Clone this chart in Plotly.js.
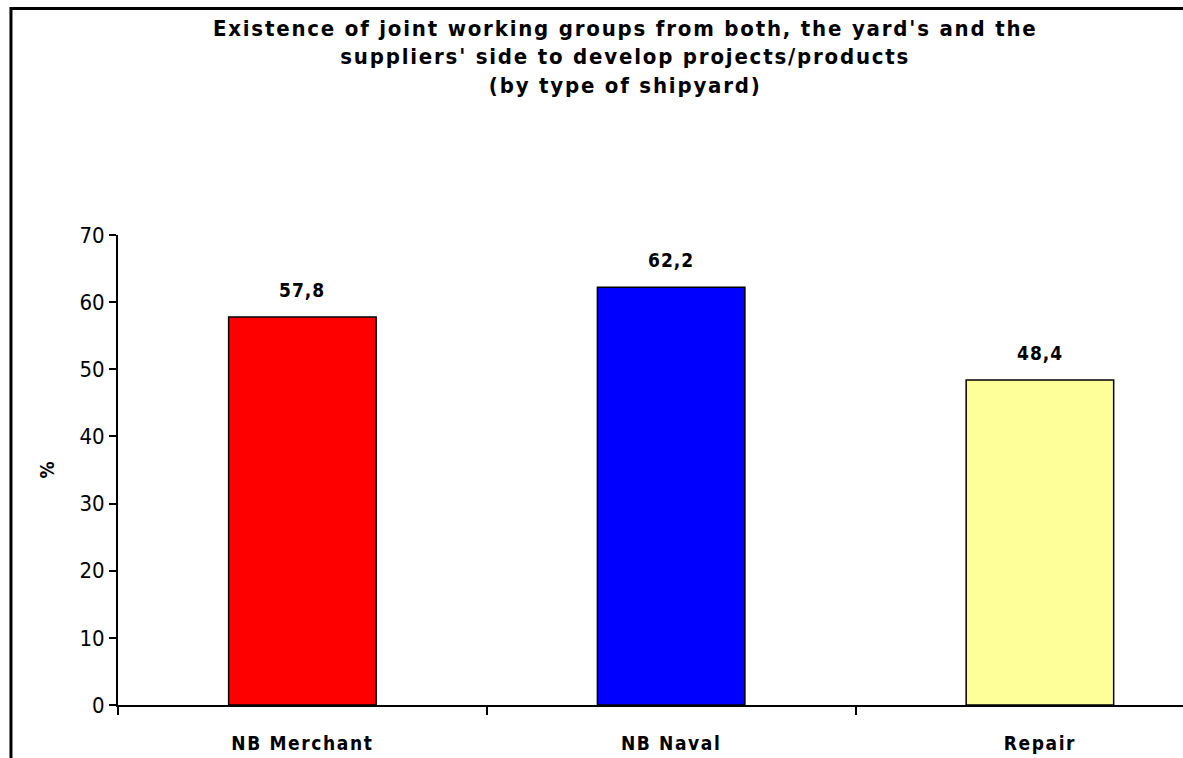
<!DOCTYPE html>
<html>
<head>
<meta charset="utf-8">
<script src="https://cdn.plot.ly/plotly-3.0.1.min.js"></script>
<style>
html,body{margin:0;padding:0;background:#fff;}
#chart{width:1183px;height:758px;}
#chart text.gtitle, #chart text.gtitle tspan { letter-spacing: 1.8px; }
#chart .xtick text { letter-spacing: 1.6px; }
#chart .annotation-text { letter-spacing: 1px; }
</style>
</head>
<body>
<div id="chart"></div>
<script>
const categories = ["NB Merchant", "NB Naval", "Repair"];
const values = [57.8, 62.2, 48.4];
const barColors = ["#FF0000", "#0000FF", "#FFFF99"];
const yTicks = [0, 10, 20, 30, 40, 50, 60, 70];
const chartTitle = "Existence of joint working groups from both, the yard's and the<br>suppliers' side to develop projects/products<br>(by type of shipyard)";

const fontFam = "'DejaVu Sans Condensed', 'Liberation Sans', Arial, sans-serif";

const trace = {
  type: "bar",
  x: categories,
  y: values,
  width: 0.4,
  marker: { color: barColors, line: { color: "#000", width: 1.5 } },
  hoverinfo: "skip"
};

const annotations = categories.map((c, i) => ({
  x: c, y: values[i], xref: "x", yref: "y",
  text: values[i].toFixed(1).replace(".", ","),
  showarrow: false, yanchor: "bottom", yshift: 14,
  font: { family: fontFam, size: 19, color: "#000", weight: "bold" }
}));

const layout = {
  width: 1183, height: 758,
  paper_bgcolor: "#fff", plot_bgcolor: "#fff",
  margin: { l: 118, r: 0, t: 235, b: 53, pad: 0 },
  showlegend: false,
  title: {
    text: chartTitle,
    font: { family: fontFam, size: 22, color: "#000", weight: "bold" },
    x: 0.5285, xref: "container", xanchor: "center",
    y: 0.953, yref: "container", yanchor: "top"
  },
  xaxis: {
    type: "category",
    range: [-0.5, 2.388],
    tickson: "boundaries",
    ticks: "outside", ticklen: 8, tickwidth: 2, tickcolor: "#000",
    ticklabelstandoff: 20,
    showline: true, linecolor: "#000", linewidth: 2,
    showgrid: false, zeroline: false,
    tickfont: { family: fontFam, size: 19, color: "#000", weight: "bold" },
    fixedrange: true
  },
  yaxis: {
    range: [0, 70],
    tickvals: yTicks,
    ticktext: yTicks.map(String),
    ticks: "outside", ticklen: 7, tickwidth: 2, tickcolor: "#000",
    ticklabelstandoff: 0,
    showline: true, linecolor: "#000", linewidth: 2,
    showgrid: false, zeroline: false,
    tickfont: { family: fontFam, size: 22, color: "#000" },
    title: { text: "%", standoff: 20, font: { family: fontFam, size: 19, color: "#000", weight: "bold" } },
    fixedrange: true
  },
  annotations: annotations,
  shapes: [
    { type: "line", xref: "paper", yref: "paper", x0: -0.1005, x1: -0.1005, y0: 1.485, y1: -0.2,
      line: { color: "#000", width: 3 } },
    { type: "line", xref: "paper", yref: "paper", x0: -0.1005, x1: 1.05, y0: 1.482, y1: 1.482,
      line: { color: "#000", width: 3 } }
  ]
};

Plotly.newPlot("chart", [trace], layout, { displayModeBar: false, staticPlot: true });
</script>
</body>
</html>
